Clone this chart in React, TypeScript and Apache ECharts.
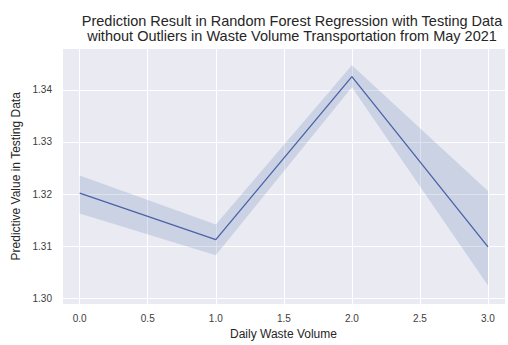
import React, { useEffect, useRef } from "react";
import * as echarts from "echarts";

const xValues = [0, 1, 2, 3];
const meanValues = [1.3202, 1.3113, 1.3425, 1.3099];
const lowerValues = [1.3163, 1.3083, 1.3405, 1.3025];
const upperValues = [1.3236, 1.3142, 1.3447, 1.3206];
const titleLines = [
  "Prediction Result in Random Forest Regression with Testing Data",
  "without Outliers in Waste Volume Transportation from May 2021",
];
const xName = "Daily Waste Volume";
const yName = "Predictive Value in Testing Data";

export default function App() {
  const ref = useRef<HTMLDivElement>(null);
  useEffect(() => {
    if (!ref.current) return;
    const chart = echarts.init(ref.current, undefined, { renderer: "svg" });
    const font = "'Liberation Sans', Arial, sans-serif";
    const band = xValues.map((x, i) => [x, lowerValues[i], upperValues[i]]);
    const mean = xValues.map((x, i) => [x, meanValues[i]]);
    chart.setOption({
      animation: false,
      backgroundColor: "#ffffff",
      title: {
        text: titleLines.join("\n"),
        left: 287,
        top: 9,
        textAlign: "center",
        textStyle: {
          fontFamily: font,
          fontSize: 14.5,
          fontWeight: "normal",
          color: "#262626",
          lineHeight: 14.5,
        },
      },
      grid: {
        left: 62,
        right: 0,
        top: 48.5,
        bottom: 38,
        show: true,
        backgroundColor: "#EAEAF2",
        borderWidth: 0,
      },
      xAxis: {
        type: "value",
        min: -0.13,
        max: 3.125,
        name: xName,
        nameLocation: "middle",
        nameGap: 20,
        nameTextStyle: { fontFamily: font, fontSize: 12, color: "#262626" },
        axisLine: { show: false },
        axisTick: { show: false },
        splitLine: { show: true, lineStyle: { color: "#ffffff", width: 1 } },
        axisLabel: {
          fontFamily: font,
          fontSize: 10,
          color: "#3c3c3c",
          margin: 9,
          formatter: (v: number) =>
            Math.abs(v * 2 - Math.round(v * 2)) < 1e-6 ? v.toFixed(1) : "",
        },
      },
      yAxis: {
        type: "value",
        min: 1.29896,
        max: 1.3479,
        name: yName,
        nameLocation: "middle",
        nameGap: 40,
        nameTextStyle: { fontFamily: font, fontSize: 12, color: "#262626" },
        axisLine: { show: false },
        axisTick: { show: false },
        splitLine: { show: true, lineStyle: { color: "#ffffff", width: 1 } },
        axisLabel: {
          fontFamily: font,
          fontSize: 10,
          color: "#3c3c3c",
          margin: 10,
          formatter: (v: number) =>
            Math.abs(v * 100 - Math.round(v * 100)) < 1e-6 ? v.toFixed(2) : "",
        },
      },
      series: [
        {
          type: "custom",
          data: band,
          silent: true,
          z: 1,
          renderItem: (params: any, api: any) => {
            if (params.dataIndex !== 0) return null;
            const top = band.map((d) => api.coord([d[0], d[2]]));
            const bottom = band
              .slice()
              .reverse()
              .map((d) => api.coord([d[0], d[1]]));
            return {
              type: "polygon",
              shape: { points: top.concat(bottom) },
              style: { fill: "rgba(76,114,176,0.2)" },
            };
          },
        },
        {
          type: "line",
          data: mean,
          symbol: "none",
          z: 3,
          lineStyle: { color: "#4C62A8", width: 1.3 },
        },
      ],
    });
    return () => chart.dispose();
  }, []);
  return (
    <div
      ref={ref}
      style={{ position: "absolute", left: 0, top: 0, width: 508, height: 345 }}
    />
  );
}
